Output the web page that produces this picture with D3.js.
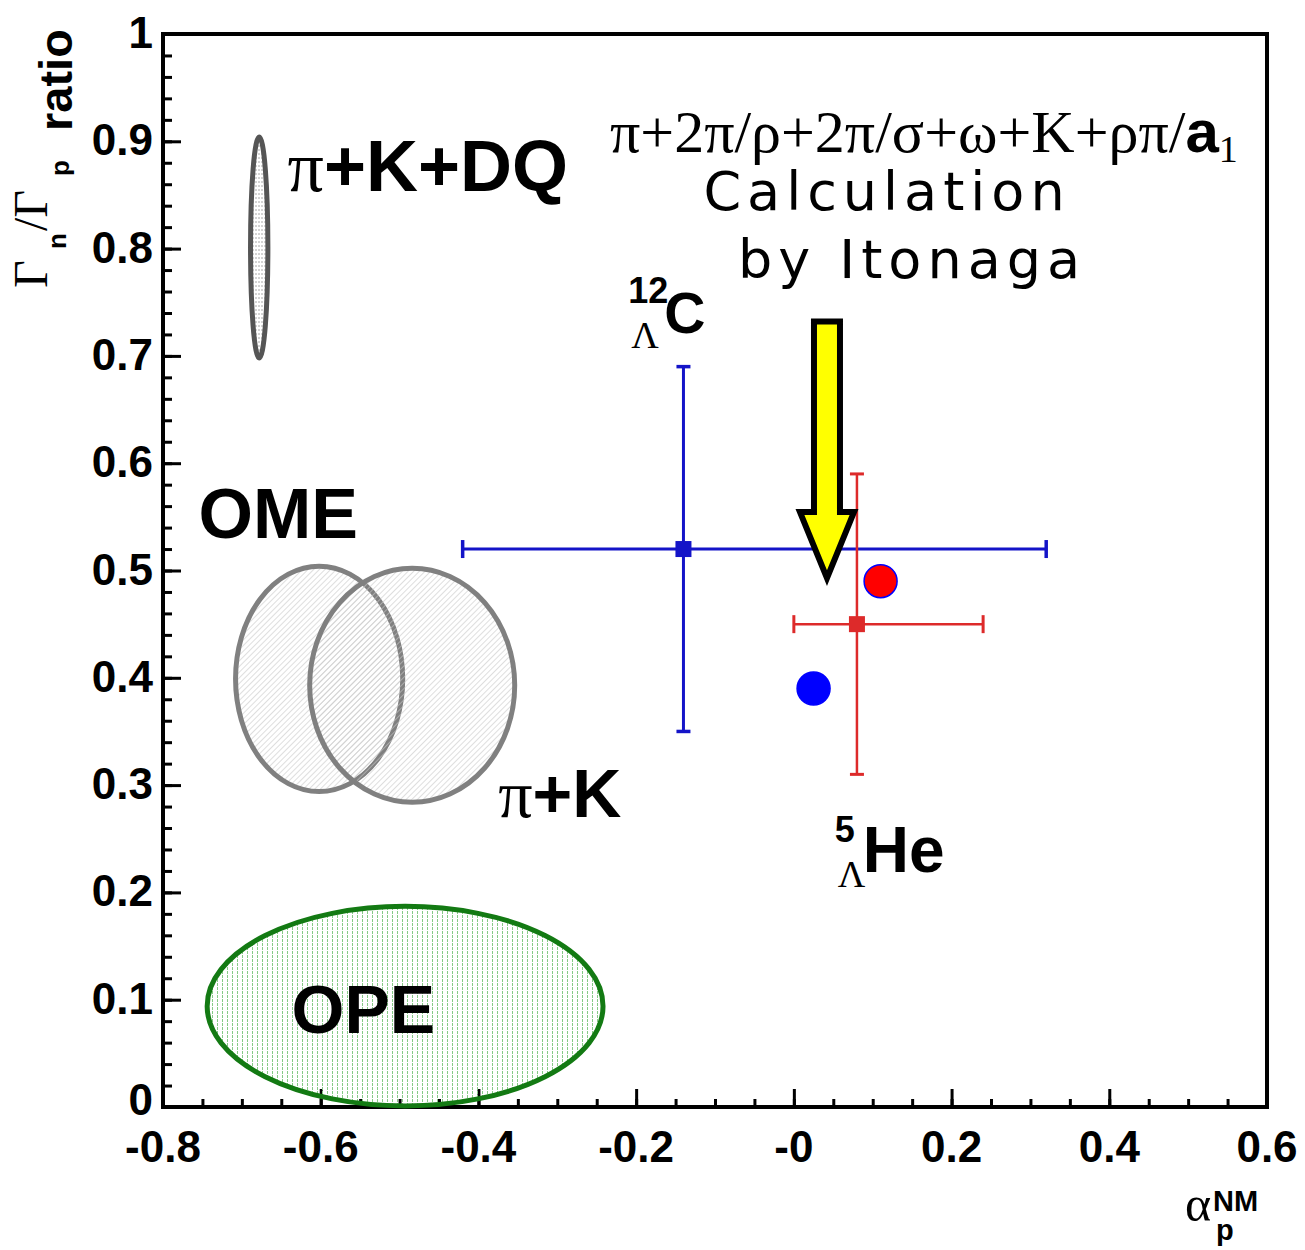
<!DOCTYPE html>
<html>
<head>
<meta charset="utf-8">
<script src="https://cdn.jsdelivr.net/npm/d3@7"></script>
<style>
html,body{margin:0;padding:0;background:#fff;}
svg{display:block;}
</style>
</head>
<body>
<script>
// ---------- data ----------
const xTickValues = [-0.8, -0.6, -0.4, -0.2, 0, 0.2, 0.4, 0.6];
const xTickLabels = ["-0.8", "-0.6", "-0.4", "-0.2", "-0", "0.2", "0.4", "0.6"];
const yTickValues = [0, 0.1, 0.2, 0.3, 0.4, 0.5, 0.6, 0.7, 0.8, 0.9, 1];
const yTickLabels = ["0", "0.1", "0.2", "0.3", "0.4", "0.5", "0.6", "0.7", "0.8", "0.9", "1"];

// measured hypernuclei (alpha_p^NM, Gn/Gp) with error ranges
const measNames = ["12C", "5He"];
const measX = [-0.14, 0.08];
const measY = [0.52, 0.45];
const measXLo = [-0.42, 0.0];
const measXHi = [0.32, 0.24];
const measYLo = [0.35, 0.31];
const measYHi = [0.69, 0.59];

// calculation by Itonaga
const calcNames = ["12C calc", "5He calc"];
const calcX = [0.025, 0.11];
const calcY = [0.39, 0.49];

// model regions (ellipses)
const modelNames = ["π+K+DQ", "OME", "π+K", "OPE"];
const modelCx = [-0.678, -0.602, -0.484, -0.493];
const modelCy = [0.801, 0.399, 0.393, 0.094];
const modelRx = [0.011, 0.106, 0.13, 0.251];
const modelRy = [0.103, 0.105, 0.109, 0.093];

// arrow (from, to)
const arrowFrom = [0.042, 0.732];
const arrowTo = [0.042, 0.493];

// ---------- drawing ----------
const W = 1305, H = 1250;
const svg = d3.select("body").append("svg").attr("width", W).attr("height", H);

const x = d3.scaleLinear().domain([-0.8, 0.6]).range([163, 1267]);
const y = d3.scaleLinear().domain([0, 1]).range([1107, 34]);

const SANS = "'Liberation Sans', Arial, Helvetica, sans-serif";
const SERIF = "'Liberation Serif', 'Times New Roman', serif";

const defs = svg.append("defs");
const pH = defs.append("pattern").attr("id", "hatchH").attr("patternUnits", "userSpaceOnUse")
  .attr("width", 6).attr("height", 4);
pH.append("line").attr("x1", 0).attr("x2", 6).attr("y1", 2).attr("y2", 2)
  .attr("stroke", "#a8a8a8").attr("stroke-width", 1).attr("stroke-dasharray", "2,1");
const pD = defs.append("pattern").attr("id", "hatchD").attr("patternUnits", "userSpaceOnUse")
  .attr("width", 4).attr("height", 4).attr("patternTransform", "rotate(45)");
pD.append("line").attr("x1", 0).attr("x2", 0).attr("y1", 0).attr("y2", 4)
  .attr("stroke", "#c8c8c8").attr("stroke-width", 1.2);
const pV = defs.append("pattern").attr("id", "hatchV").attr("patternUnits", "userSpaceOnUse")
  .attr("width", 5).attr("height", 4);
pV.append("line").attr("x1", 2.5).attr("x2", 2.5).attr("y1", 0).attr("y2", 4)
  .attr("stroke", "#86c986").attr("stroke-width", 1).attr("stroke-dasharray", "2,1");

// axes (ticks inside)
const gx = svg.append("g").attr("transform", `translate(0,${y(0)})`);
gx.call(d3.axisBottom(x).tickValues(d3.range(-0.8, 0.6001, 0.05)).tickSize(-8).tickFormat(""));
gx.append("g").call(d3.axisBottom(x).tickValues(xTickValues).tickSize(-18).tickFormat(""));
gx.selectAll("path.domain").remove();
gx.selectAll("line").attr("stroke", "#000").attr("stroke-width", 3);

const gy = svg.append("g").attr("transform", `translate(${x(-0.8)},0)`);
gy.call(d3.axisLeft(y).tickValues(d3.range(0, 1.0001, 0.02)).tickSize(-9).tickFormat(""));
gy.append("g").call(d3.axisLeft(y).tickValues(yTickValues).tickSize(-18).tickFormat(""));
gy.selectAll("path.domain").remove();
gy.selectAll("line").attr("stroke", "#000").attr("stroke-width", 3);

// frame
svg.append("rect").attr("x", x(-0.8)).attr("y", y(1))
  .attr("width", x(0.6) - x(-0.8)).attr("height", y(0) - y(1))
  .attr("fill", "none").attr("stroke", "#000").attr("stroke-width", 4);

// tick labels
svg.append("g").selectAll("text").data(xTickValues).join("text")
  .attr("x", d => x(d)).attr("y", y(0) + 55)
  .attr("text-anchor", "middle").attr("font-family", SANS).attr("font-weight", "bold")
  .attr("font-size", 44).attr("fill", "#000")
  .text((d, i) => xTickLabels[i]);
svg.append("g").selectAll("text").data(yTickValues).join("text")
  .attr("x", x(-0.8) - 10).attr("y", d => y(d) + (d === 0 ? 8 : 14))
  .attr("text-anchor", "end").attr("font-family", SANS).attr("font-weight", "bold")
  .attr("font-size", 44).attr("fill", "#000")
  .text((d, i) => yTickLabels[i]);

// model ellipses
const fills = ["url(#hatchH)", "url(#hatchD)", "url(#hatchD)", "url(#hatchV)"];
const strokes = ["#555555", "#808080", "#808080", "#137a13"];
svg.append("g").selectAll("ellipse").data(modelNames).join("ellipse")
  .attr("cx", (d, i) => x(modelCx[i])).attr("cy", (d, i) => y(modelCy[i]))
  .attr("rx", (d, i) => x(modelCx[i] + modelRx[i]) - x(modelCx[i]))
  .attr("ry", (d, i) => y(modelCy[i]) - y(modelCy[i] + modelRy[i]))
  .attr("fill", (d, i) => fills[i]).attr("stroke", (d, i) => strokes[i])
  .attr("stroke-width", 5);

// model labels
function modelLabel(px, py, size, parts) {
  const t = svg.append("text").attr("x", px).attr("y", py).attr("font-size", size).attr("fill", "#000");
  parts.forEach(p => {
    t.append("tspan").attr("font-family", p.serif ? SERIF : SANS)
      .attr("font-weight", p.serif ? "normal" : "bold").text(p.t);
  });
}
modelLabel(x(-0.642), y(0.854), 72, [{t: "π", serif: true}, {t: "+K+DQ"}]);
modelLabel(x(-0.755), y(0.530), 70, [{t: "OME"}]);
modelLabel(x(-0.375), y(0.27), 68, [{t: "π", serif: true}, {t: "+K"}]);
modelLabel(x(-0.637), y(0.069), 68, [{t: "OPE"}]);

// error bars
const cols = ["#1414c8", "#dd2a2a"];
const eb = svg.append("g");
measNames.forEach((n, i) => {
  const c = cols[i];
  const sw = i === 0 ? 3 : 2.5;
  eb.append("line").attr("x1", x(measXLo[i])).attr("x2", x(measXHi[i]))
    .attr("y1", y(measY[i])).attr("y2", y(measY[i])).attr("stroke", c).attr("stroke-width", sw);
  eb.append("line").attr("x1", x(measX[i])).attr("x2", x(measX[i]))
    .attr("y1", y(measYLo[i])).attr("y2", y(measYHi[i])).attr("stroke", c).attr("stroke-width", sw);
  [measXLo[i], measXHi[i]].forEach(v => eb.append("line")
    .attr("x1", x(v)).attr("x2", x(v)).attr("y1", y(measY[i]) - 9).attr("y2", y(measY[i]) + 9)
    .attr("stroke", c).attr("stroke-width", sw + 0.5));
  [measYLo[i], measYHi[i]].forEach(v => eb.append("line")
    .attr("x1", x(measX[i]) - 7).attr("x2", x(measX[i]) + 7).attr("y1", y(v)).attr("y2", y(v))
    .attr("stroke", c).attr("stroke-width", sw + 0.5));
  eb.append("rect").attr("x", x(measX[i]) - 8).attr("y", y(measY[i]) - 8)
    .attr("width", 16).attr("height", 16).attr("fill", c);
});

// arrow
const ax = x(arrowFrom[0]);
const y0 = y(arrowFrom[1]), y1 = y(arrowTo[1]);
const shaftHalf = 13, headHalf = 27, headLen = 66;
const arrowPts = [
  [ax - shaftHalf, y0], [ax + shaftHalf, y0], [ax + shaftHalf, y1 - headLen],
  [ax + headHalf, y1 - headLen], [ax, y1], [ax - headHalf, y1 - headLen], [ax - shaftHalf, y1 - headLen]
];
svg.append("path").attr("d", d3.line()(arrowPts) + "Z")
  .attr("fill", "#ffff00").attr("stroke", "#000").attr("stroke-width", 6)
  .attr("stroke-linejoin", "miter");

// calculation points
const calcFill = ["#0000ff", "#ff0000"];
svg.append("g").selectAll("ellipse").data(calcNames).join("ellipse")
  .attr("cx", (d, i) => x(calcX[i])).attr("cy", (d, i) => y(calcY[i]))
  .attr("rx", 16.5).attr("ry", 16.5)
  .attr("fill", (d, i) => calcFill[i]).attr("stroke", "#0000ff").attr("stroke-width", 1.5);

// nucleus labels
function nucl(px, py, mass, sym, symSize) {
  svg.append("text").attr("x", px).attr("y", py - 30).attr("font-family", SANS)
    .attr("font-weight", "bold").attr("font-size", 36).attr("fill", "#000").text(mass);
  svg.append("text").attr("x", px + 3).attr("y", py + 15).attr("font-family", SERIF)
    .attr("font-size", 38).attr("fill", "#000").text("Λ");
  svg.append("text").attr("x", px + (mass.length === 2 ? 36 : 28)).attr("y", py)
    .attr("font-family", SANS).attr("font-weight", "bold").attr("font-size", symSize)
    .attr("fill", "#000").text(sym);
}
nucl(x(-0.21), y(0.721), "12", "C", 57);
nucl(x(0.052), y(0.219), "5", "He", 64);

// calculation title
const tt = svg.append("text").attr("x", 610).attr("y", 152).attr("font-size", 60).attr("fill", "#000");
tt.append("tspan").attr("font-family", SERIF).text("π+2π/ρ+2π/σ+ω+K+ρπ/");
tt.append("tspan").attr("font-family", SANS).attr("font-weight", "bold").text("a");
tt.append("tspan").attr("font-family", SERIF).attr("font-size", 38).attr("dy", 10).text("1");

svg.append("text").attr("x", 887).attr("y", 210).attr("text-anchor", "middle")
  .attr("font-family", "'DejaVu Sans', sans-serif").attr("font-size", 54)
  .attr("letter-spacing", 6).attr("fill", "#000").text("Calculation");
svg.append("text").attr("x", 912).attr("y", 278).attr("text-anchor", "middle")
  .attr("font-family", "'DejaVu Sans', sans-serif").attr("font-size", 54)
  .attr("letter-spacing", 6).attr("fill", "#000").text("by Itonaga");

// y axis title (rotated)
function rot(px, py, txt, fam, size, weight) {
  svg.append("text").attr("transform", `translate(${px},${py}) rotate(-90)`)
    .attr("font-family", fam).attr("font-size", size).attr("font-weight", weight || "normal")
    .attr("fill", "#000").text(txt);
}
rot(47, 288, "Γ", SERIF, 48);
rot(66, 249, "n", SANS, 26, "bold");
rot(47, 231, "/Γ", SERIF, 48);
rot(69, 176, "p", SANS, 26, "bold");
rot(72, 131, "ratio", SANS, 47, "bold");

// x axis title
svg.append("text").attr("x", 1185).attr("y", 1221).attr("font-family", SERIF)
  .attr("font-size", 50).attr("fill", "#000").text("α");
svg.append("text").attr("x", 1213).attr("y", 1211).attr("font-family", SANS)
  .attr("font-weight", "bold").attr("font-size", 29).attr("fill", "#000").text("NM");
svg.append("text").attr("x", 1216).attr("y", 1240).attr("font-family", SANS)
  .attr("font-weight", "bold").attr("font-size", 29).attr("fill", "#000").text("p");
</script>
</body>
</html>
